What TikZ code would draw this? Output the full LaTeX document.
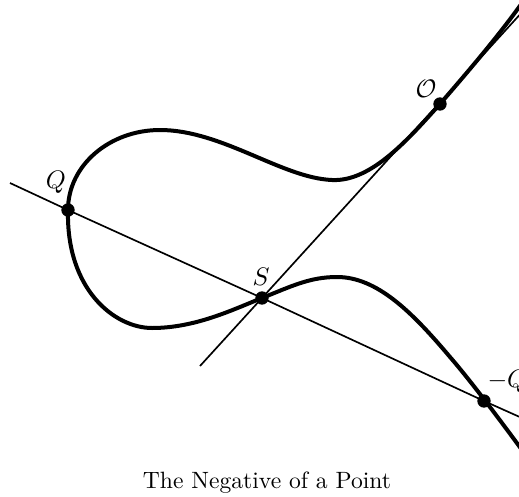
\documentclass[tikz,border=0pt]{standalone}
\begin{document}
\begin{tikzpicture}[x=0.75pt,y=-0.75pt,
  curvestyle/.style={line width=3pt, line cap=round, line join=round},
  thinline/.style={line width=1.25pt},
  ptdot/.style={circle, fill=black, inner sep=0pt, minimum size=10pt},
  lbl/.style={scale=1.9, inner sep=0pt}]
\useasboundingbox (0,0) rectangle (519,497);
% points
\node[ptdot] (O) at (440,104) {};
\node[ptdot] (Q) at (68,210) {};
\node[ptdot] (S) at (262,298) {};
\node[ptdot] (mQ) at (484,401) {};
% free ends of lines
\coordinate (l1a) at (10,183);
\coordinate (l1b) at (522,418);
\coordinate (l2a) at (200,366);
\coordinate (l2b) at (524,10);
\draw[thinline] (l1a) -- (Q.center) -- (S.center) -- (mQ.center) -- (l1b);
\draw[thinline] (l2a) -- (S.center) -- (l2b);
% curve
\draw[curvestyle] (522,3) .. controls (497,38) and (465,75) .. (440,104)
  .. controls (410,137) and (372,182) .. (332,180)
  .. controls (282,178) and (222,130) .. (160,130)
  .. controls (110,130) and (68,165) .. (68,210)
  .. controls (66,290) and (115,328) .. (152,328)
  .. controls (195,328) and (232,310) .. (262,298)
  .. controls (292,286) and (310,277) .. (337,277)
  .. controls (377,277) and (412,312) .. (450,357)
  .. controls (470,380) and (500,420) .. (522,450);
% labels
\node[lbl, anchor=base] (tQ) at (56,188) {$Q$};
\node[lbl, anchor=base] (tO) at (426,97) {$\mathcal{O}$};
\node[lbl, anchor=base] (tS) at (261,285) {$S$};
\node[lbl, anchor=base west] (tmQ) at (487,387) {$-Q$};
\node[scale=1.77, anchor=base, inner sep=0pt] (title) at (267,488) {The Negative of a Point};
\end{tikzpicture}
\end{document}
